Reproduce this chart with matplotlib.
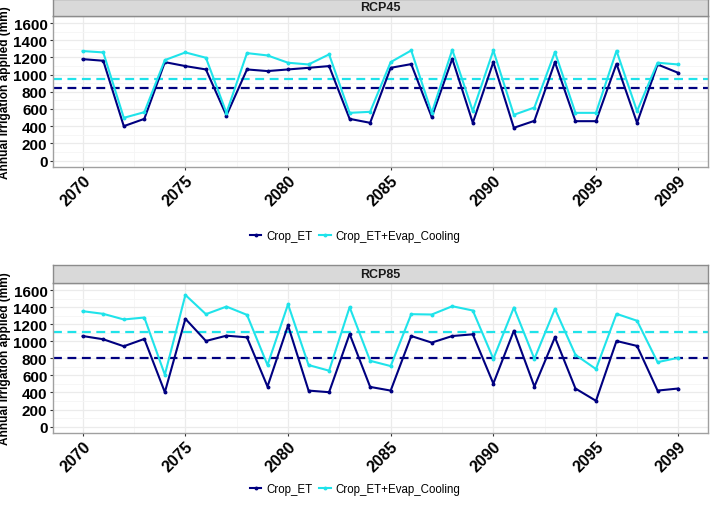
import numpy as np
import matplotlib
matplotlib.use('Agg')
import matplotlib.pyplot as plt

plt.rcParams['font.family'] = ['Liberation Sans', 'DejaVu Sans']

years = list(range(2070, 2100))

rcp45_crop = [1180, 1161, 400, 485, 1145, 1099, 1060, 524, 1060, 1041,
              1060, 1079, 1099, 485, 439, 1079, 1122, 505, 1184, 439,
              1145, 381, 462, 1145, 458, 458, 1126, 439, 1118, 1021]
rcp45_cool = [1274, 1258, 497, 563, 1169, 1258, 1196, 555, 1250, 1223,
              1138, 1118, 1235, 555, 567, 1145, 1281, 555, 1289, 575,
              1281, 532, 617, 1262, 555, 555, 1277, 575, 1138, 1118]
rcp85_crop = [1061, 1023, 941, 1027, 403, 1263, 1003, 1065, 1046, 469,
              1185, 422, 403, 1085, 465, 422, 1061, 984, 1061, 1081,
              504, 1123, 469, 1046, 446, 302, 1003, 945, 422, 446]
rcp85_cool = [1352, 1321, 1255, 1278, 608, 1542, 1317, 1406, 1309, 721,
              1433, 721, 655, 1399, 771, 709, 1317, 1313, 1410, 1360,
              794, 1395, 794, 1379, 841, 674, 1321, 1240, 755, 806]

mean45 = [847, 951]
mean85 = [806, 1108]

panels = ['RCP45', 'RCP85']
series_names = ['Crop_ET', 'Crop_ET+Evap_Cooling']
colors = ['#000080', '#1FE3EA']
xticks = [2070, 2075, 2080, 2085, 2090, 2095, 2099]

fig = plt.figure(figsize=(7.1, 5.1), dpi=100)

# panel left, bottom, width, height, strip bottom, strip height, legend y
layout = [[0.0746, 0.6706, 0.9224, 0.2961, 0.9667, 0.0333, 0.535],
          [0.0746, 0.1490, 0.9224, 0.2941, 0.4431, 0.0353, 0.039]]

data = [(rcp45_crop, rcp45_cool, mean45), (rcp85_crop, rcp85_cool, mean85)]

for i in range(2):
    l, b, w, h, sb, sh, ly = layout[i]
    ax = fig.add_axes([l, b, w, h])
    crop, cool, means = data[i]
    ax.plot(years, crop, color=colors[0], lw=1.5, marker='o', ms=1.8, label=series_names[0], zorder=3)
    ax.plot(years, cool, color=colors[1], lw=1.5, marker='o', ms=1.8, label=series_names[1], zorder=3)
    ax.axhline(means[0], color=colors[0], lw=1.6, ls=(0, (4, 2.5)), zorder=2)
    ax.axhline(means[1], color=colors[1], lw=1.6, ls=(0, (4, 2.5)), zorder=2)

    ax.set_xlim(2068.55, 2100.45)
    ax.set_ylim(-75, 1682)
    ax.set_yticks(range(0, 1601, 200))
    ax.set_yticks(range(100, 1601, 200), minor=True)
    ax.set_xticks(xticks)
    ax.set_xticks([2072.5, 2077.5, 2082.5, 2087.5, 2092.5, 2097], minor=True)
    ax.grid(True, which='major', color='#EBEBEB', lw=0.9, zorder=0)
    ax.grid(True, which='minor', color='#F5F5F5', lw=0.6, zorder=0)
    ax.set_axisbelow(True)
    for s in ax.spines.values():
        s.set_color('#A0A0A0')
        s.set_linewidth(1.0)
    ax.tick_params(which='major', length=2.5, color='#333333', width=0.8, pad=1.5)
    ax.tick_params(which='minor', length=0)
    for lab in ax.get_yticklabels():
        lab.set_fontsize(11)
        lab.set_fontweight('bold')
        lab.set_color('black')
    ax.set_xticklabels([str(x) for x in xticks], rotation=45, ha='right', va='top',
                       rotation_mode='anchor', fontsize=11.5, fontweight='bold')
    ax.set_ylabel('Annual irrigation applied (mm)', fontsize=8.6, fontweight='bold', labelpad=1.5)

    fig.legend(handles=ax.get_lines()[:2], labels=series_names, loc='center',
               bbox_to_anchor=(0.5, ly), ncol=2, frameon=False, fontsize=8.3,
               handlelength=1.0, handletextpad=0.4, columnspacing=0.6)

    sax = fig.add_axes([l, sb, w, sh])
    sax.set_facecolor('#D9D9D9')
    sax.set_xticks([])
    sax.set_yticks([])
    for s in sax.spines.values():
        s.set_color('#8C8C8C')
        s.set_linewidth(1.0)
    sax.text(0.5, 0.5, panels[i], transform=sax.transAxes, ha='center', va='center',
             fontsize=9, fontweight='semibold', color='#1A1A1A')

fig.savefig('out.png', dpi=100)
